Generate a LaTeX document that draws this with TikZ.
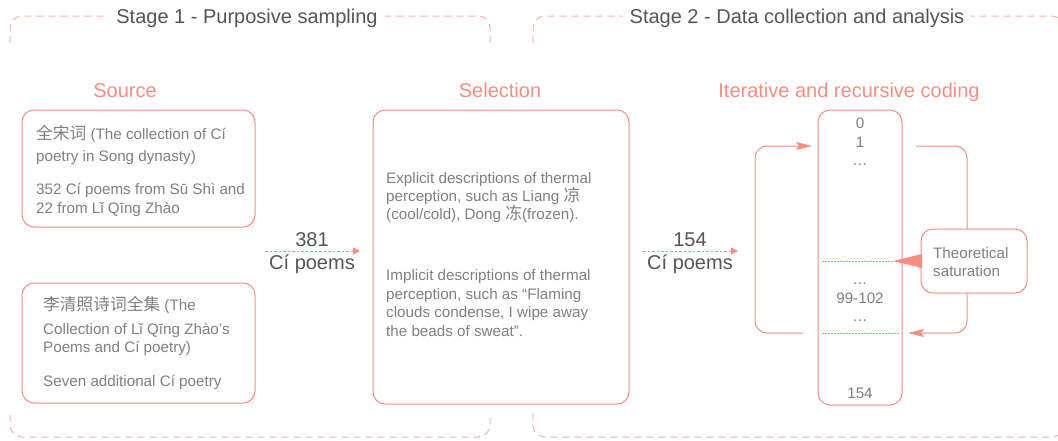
\documentclass[tikz,border=0pt]{standalone}
\usepackage{fontspec}
\setmainfont{Liberation Sans}
\newfontfamily\cjk[Scale=1.1]{Noto Sans CJK SC}
\usetikzlibrary{arrows.meta}
\definecolor{salmon}{RGB}{250,140,128}
\definecolor{lightsalmon}{RGB}{252,176,168}
\definecolor{textgray}{RGB}{128,128,128}
\definecolor{labelgray}{RGB}{85,85,85}

\begin{document}
\begin{tikzpicture}[x=1pt,y=-1pt,
  roundbox/.style={draw=salmon, line width=1pt, rounded corners=12pt, fill=white, inner sep=0pt},
  edgeline/.style={draw=salmon, line width=1pt},
  stagepath/.style={draw=lightsalmon, line width=1pt, dash pattern=on 7pt off 5pt, rounded corners=12pt},
  stagetitle/.style={anchor=base, fill=white, inner xsep=7pt, inner ysep=2pt, text=labelgray, font=\fontsize{20}{24}\selectfont},
  header/.style={anchor=base, inner sep=0pt, text=salmon, font=\fontsize{20}{24}\selectfont},
  txt/.style={anchor=base west, inner sep=0pt, text=textgray, font=\fontsize{15.2}{18}\selectfont},
  num/.style={anchor=base, inner sep=0pt, text=textgray, font=\fontsize{15.2}{18}\selectfont},
  countlabel/.style={anchor=base, inner sep=0pt, text=labelgray, font=\fontsize{20}{24}\selectfont},
  flow/.style={draw=salmon, line width=1pt, dash pattern=on 2.5pt off 2pt, -{Triangle[length=7pt,width=7pt]}},
  cycleline/.style={edgeline, rounded corners=12pt, -{Stealth[length=16pt,width=8pt,inset=3pt]}},
  dotline/.style={draw=salmon, line width=1pt, dash pattern=on 1.5pt off 1.5pt}]
\useasboundingbox (0,0) rectangle (1058,440);

\draw[stagepath] (10,43) -- (10,16) -- (490,16) -- (490,43);
\node[stagetitle] (stage1) at (247,23) {Stage 1 - Purposive sampling};
\draw[stagepath] (10,415) -- (10,437) -- (490,437) -- (490,413);
\draw[stagepath] (533,43) -- (533,16) -- (1064,16) -- (1064,43);
\node[stagetitle] (stage2) at (797,23) {Stage 2 - Data collection and analysis};
\draw[stagepath] (533,413) -- (533,437) -- (1064,437) -- (1064,413);

\node[header] (srchead) at (125,97) {Source};
\node[header] (selhead) at (500,97) {Selection};
\node[header] (codehead) at (849,97) {Iterative and recursive coding};

\node[roundbox, minimum width=233pt, minimum height=117pt] (src1) at (138.5,168.5) {};
\node[txt] (src1a) at (36,139) {{\cjk 全宋词} (The collection of Cí};
\node[txt] (src1b) at (36,161) {poetry in Song dynasty)};
\node[txt] (src1c) at (36,194) {352 Cí poems from Sū Shì and};
\node[txt] (src1d) at (36,213) {22 from Lǐ Qīng Zhào};

\node[roundbox, minimum width=233pt, minimum height=120pt] (src2) at (138.5,343) {};
\node[txt] (src2a) at (43,310) {{\cjk 李清照诗词全集} (The};
\node[txt] (src2b) at (43,334) {Collection of Lǐ Qīng Zhào’s};
\node[txt] (src2c) at (43,352) {Poems and Cí poetry)};
\node[txt] (src2d) at (43,386) {Seven additional Cí poetry};

\coordinate (f1s) at (265,251);
\coordinate (f1e) at (360,251);
\draw[flow] (f1s) -- (f1e);
\node[countlabel] (n381) at (312,246) {381};
\node[countlabel] (poems1) at (312,269) {Cí poems};

\node[roundbox, minimum width=256pt, minimum height=294pt] (sel) at (501,257) {};
\node[txt] (sel1a) at (386,183) {Explicit descriptions of thermal};
\node[txt] (sel1b) at (386,201) {perception, such as Liang {\cjk 凉}};
\node[txt] (sel1c) at (386,219) {(cool/cold), Dong {\cjk 冻}(frozen).};
\node[txt] (sel2a) at (386,280) {Implicit descriptions of thermal};
\node[txt] (sel2b) at (386,299) {perception, such as “Flaming};
\node[txt] (sel2c) at (386,317) {clouds condense, I wipe away};
\node[txt] (sel2d) at (386,336) {the beads of sweat”.};

\coordinate (f2s) at (643,251);
\coordinate (f2e) at (738,251);
\draw[flow] (f2s) -- (f2e);
\node[countlabel] (n154) at (690,246) {154};
\node[countlabel] (poems2) at (690,269) {Cí poems};

\node[roundbox, minimum width=84pt, minimum height=295pt] (col) at (860,257.5) {};
\node[num] (c0) at (860,128) {0};
\node[num] (c1) at (860,147) {1};
\node[num] (cd1) at (860,165) {…};
\node[num] (cd2) at (860,284) {…};
\node[num] (c99) at (860,303) {99-102};
\node[num] (cd3) at (860,321) {…};
\node[num] (c154) at (860,398) {154};

\coordinate (satl) at (822,261);
\coordinate (satr) at (893,261);
\coordinate (endl) at (822,333);
\coordinate (endr) at (900,333);
\draw[dotline] (satl) -- (satr);
\draw[dotline] (endl) -- (endr);

\coordinate (lout) at (803,333);
\coordinate (lin) at (812,146);
\coordinate (rout) at (916,146);
\coordinate (rin) at (908,333);
\draw[cycleline] (lout) -- (755,333) -- (755,146) -- (lin);
\draw[cycleline] (rout) -- (967,146) -- (967,333) -- (rin);

\node[roundbox, minimum width=106pt, minimum height=64pt] (sat) at (974,261) {};
\node[txt] (sat1) at (933,258) {Theoretical};
\node[txt] (sat2) at (933,276) {saturation};
\fill[salmon] (922,254) -- (satr) -- (922,268) -- cycle;
\end{tikzpicture}
\end{document}
